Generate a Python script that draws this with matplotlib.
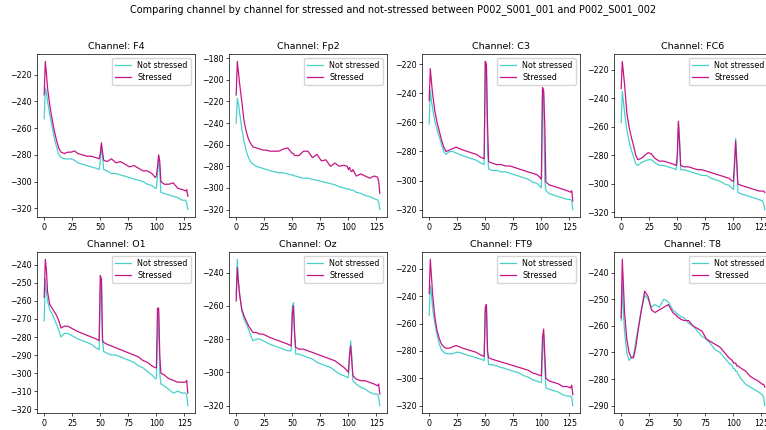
import matplotlib
matplotlib.use("Agg")
import matplotlib.pyplot as plt

freqs = [0, 1, 2, 3, 5, 7, 9, 11, 13, 15, 18, 21, 24, 27, 30, 34, 38, 42, 46, 49,
         50, 51, 52, 53, 56, 60, 64, 68, 72, 76, 80, 84, 88, 92, 96, 99,
         100, 101, 102, 103, 104, 107, 111, 115, 119, 123, 126, 127, 128]

channels = ["F4", "Fp2", "C3", "FC6", "O1", "Oz", "FT9", "T8"]

f4_ns = [-253, -230, -233, -240, -250, -259, -267, -274, -280, -282, -283, -283, -283, -284, -286, -287, -288, -289, -290, -291,
         -285, -273, -281, -291, -292, -294, -294, -295, -296, -297, -298, -299, -300, -302, -303, -305,
         -305, -296, -281, -292, -308, -309, -310, -311, -312, -314, -314, -316, -321]
f4_s = [-235, -210, -219, -230, -243, -253, -262, -269, -275, -278, -279, -278, -278, -277, -279, -280, -281, -281, -282, -283,
        -279, -271, -278, -284, -285, -283, -286, -285, -287, -289, -288, -290, -292, -292, -294, -297,
        -296, -289, -280, -285, -300, -302, -302, -301, -305, -306, -307, -306, -311]

fp2_ns = [-240, -217, -222, -230, -245, -257, -266, -272, -276, -278, -280, -281, -282, -283, -284, -285, -286, -286, -287, -288,
          -288, -288, -289, -289, -290, -291, -291, -292, -293, -294, -295, -296, -297, -299, -300, -301,
          -301, -301, -302, -302, -302, -304, -305, -307, -308, -310, -311, -313, -320]
fp2_s = [-214, -183, -193, -203, -220, -238, -248, -255, -259, -262, -263, -264, -265, -265, -266, -266, -266, -264, -263, -267,
         -268, -268, -270, -270, -270, -266, -266, -272, -269, -275, -274, -280, -277, -280, -279, -280,
         -283, -281, -284, -285, -283, -289, -287, -289, -291, -289, -290, -294, -305]

c3_ns = [-261, -238, -245, -250, -259, -265, -270, -275, -280, -282, -280, -280, -281, -282, -283, -284, -285, -286, -288, -289,
         -218, -222, -280, -292, -293, -293, -294, -294, -295, -296, -297, -298, -299, -301, -302, -304,
         -305, -238, -240, -300, -307, -309, -310, -311, -312, -313, -313, -314, -320]
c3_s = [-245, -223, -232, -240, -252, -260, -266, -272, -277, -280, -279, -278, -277, -278, -279, -280, -281, -282, -284, -285,
        -218, -220, -262, -287, -288, -289, -289, -290, -290, -291, -292, -293, -294, -295, -296, -298,
        -299, -236, -238, -262, -301, -303, -304, -305, -306, -307, -308, -307, -314]

fc6_ns = [-257, -235, -242, -250, -262, -270, -276, -281, -286, -287, -285, -284, -283, -283, -285, -287, -287, -288, -289, -290,
          -285, -257, -270, -290, -290, -291, -292, -293, -294, -294, -296, -297, -298, -300, -301, -303,
          -304, -290, -268, -285, -306, -307, -308, -309, -310, -311, -312, -314, -318]
fc6_s = [-233, -214, -222, -230, -250, -260, -267, -273, -280, -283, -282, -280, -278, -279, -282, -284, -284, -285, -286, -287,
         -280, -256, -270, -287, -288, -288, -289, -290, -290, -291, -292, -293, -294, -295, -296, -298,
         -298, -285, -270, -285, -300, -301, -302, -303, -304, -305, -305, -305, -306]

o1_ns = [-271, -248, -255, -260, -265, -267, -270, -273, -276, -280, -278, -278, -279, -280, -281, -282, -283, -284, -286, -287,
         -253, -248, -282, -288, -289, -290, -290, -291, -292, -293, -294, -296, -297, -299, -301, -303,
         -303, -280, -267, -300, -306, -307, -309, -311, -310, -311, -311, -312, -318]
o1_s = [-258, -237, -243, -255, -262, -264, -266, -268, -271, -275, -274, -274, -275, -276, -277, -278, -279, -280, -281, -282,
        -246, -248, -282, -283, -284, -285, -286, -287, -288, -289, -290, -291, -293, -294, -296, -297,
        -297, -264, -264, -290, -300, -301, -303, -304, -305, -305, -305, -304, -311]

oz_ns = [-253, -232, -245, -252, -263, -268, -271, -274, -278, -281, -280, -280, -281, -282, -283, -284, -285, -286, -287, -287,
         -260, -258, -275, -289, -289, -290, -291, -292, -294, -295, -296, -297, -299, -301, -302, -303,
         -303, -290, -281, -290, -305, -307, -309, -310, -312, -313, -313, -315, -320]
oz_s = [-257, -237, -246, -253, -262, -266, -269, -272, -274, -276, -276, -277, -277, -278, -279, -280, -281, -282, -283, -284,
        -265, -260, -276, -285, -286, -286, -287, -288, -289, -290, -291, -292, -293, -295, -297, -299,
        -300, -290, -284, -293, -302, -304, -305, -305, -306, -307, -308, -307, -313]

ft9_ns = [-254, -232, -238, -248, -260, -268, -275, -279, -281, -282, -282, -282, -281, -281, -282, -283, -284, -285, -286, -287,
          -250, -248, -282, -290, -290, -291, -292, -293, -294, -295, -296, -298, -299, -301, -302, -303,
          -303, -280, -268, -292, -307, -308, -309, -310, -312, -313, -313, -314, -320]
ft9_s = [-238, -213, -225, -238, -255, -265, -271, -275, -277, -278, -278, -277, -276, -277, -278, -279, -280, -281, -283, -284,
         -248, -246, -280, -285, -286, -287, -288, -289, -290, -291, -292, -293, -294, -296, -297, -298,
         -298, -270, -264, -282, -300, -302, -303, -304, -306, -306, -307, -305, -312]

t8_ns = [-258, -245, -255, -262, -270, -273, -272, -271, -266, -261, -254, -248.5, -250, -253, -252, -253, -250, -251, -254, -255,
         -255.5, -256, -256, -256.5, -257, -259, -260, -262, -264, -265, -267, -269, -270, -272, -274, -275,
         -276, -276, -277, -277, -278, -280, -282, -283, -284, -285, -286, -287, -290]
t8_s = [-257, -235, -245, -255, -265, -270, -272, -272, -268, -262, -254, -247, -249, -254, -255, -254, -253, -252, -255, -256,
        -256.5, -257, -257, -257.5, -258, -258, -260, -261, -262, -265, -266, -267, -268, -270, -272, -273,
        -274, -274, -274, -275, -275, -276, -277, -279, -280, -281, -282, -282, -283]

not_stressed = [f4_ns, fp2_ns, c3_ns, fc6_ns, o1_ns, oz_ns, ft9_ns, t8_ns]
stressed = [f4_s, fp2_s, c3_s, fc6_s, o1_s, oz_s, ft9_s, t8_s]

W, H = 766, 430
fig = plt.figure(figsize=(W / 100, H / 100), dpi=100)

lefts = [37, 229, 422, 614]
rows = [(54, 217), (252, 413)]
aw = 158

for i, ch in enumerate(channels):
    top, bot = rows[i // 4]
    left = lefts[i % 4]
    ax = fig.add_axes([left / W, 1 - bot / H, aw / W, (bot - top) / H])
    ax.plot(freqs, not_stressed[i], color="mediumturquoise", lw=0.9, label="Not stressed")
    ax.plot(freqs, stressed[i], color="mediumvioletred", lw=0.9, label="Stressed")
    ax.set_title("Channel: " + ch, fontsize=6.8, pad=3.5)
    ax.set_xticks([0, 25, 50, 75, 100, 125])
    ax.tick_params(labelsize=5.7, length=2, width=0.5, pad=2)
    for s in ax.spines.values():
        s.set_linewidth(0.5)
    ax.legend(loc="upper right", fontsize=5.8, frameon=True, borderpad=0.4,
              handlelength=2.0, labelspacing=0.3, framealpha=0.8)

fig.suptitle("Comparing channel by channel for stressed and not-stressed between P002_S001_001 and P002_S001_002",
             x=393 / W, y=1 - 4 / H, va="top", fontsize=7.0)

fig.savefig("out.png", dpi=100)
